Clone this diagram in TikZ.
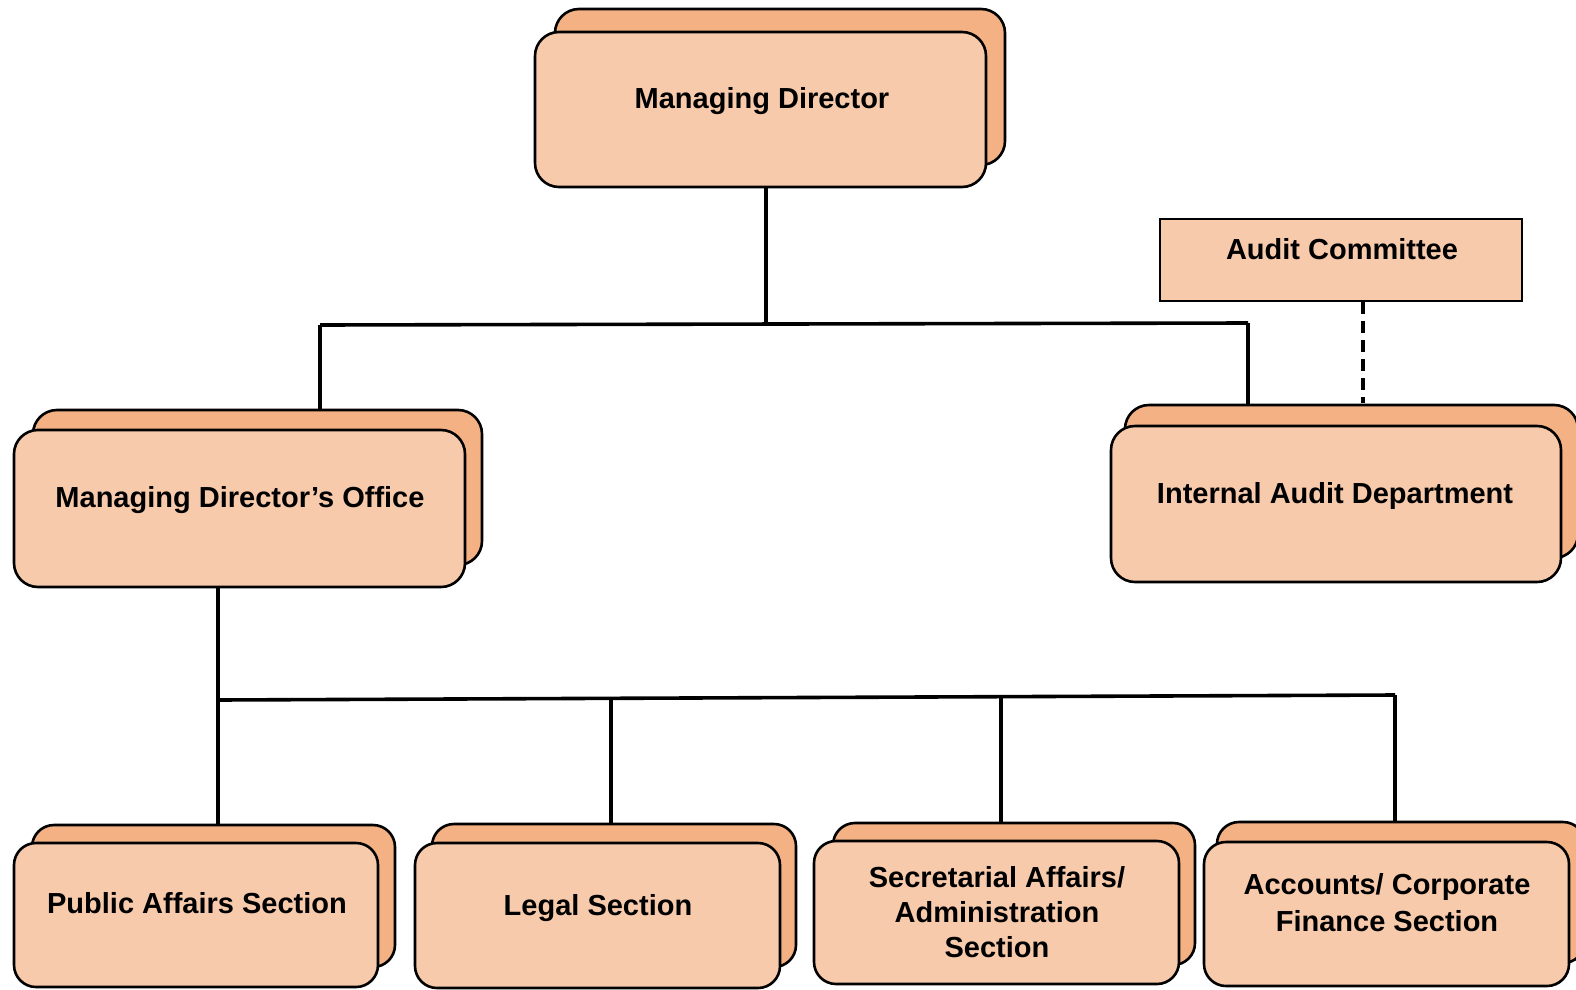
\documentclass[tikz,border=0pt]{standalone}
\usepackage{fontspec}
\setmainfont{Liberation Sans}
\usetikzlibrary{fit}
\definecolor{frontfill}{HTML}{F7CAAC}
\definecolor{backfill}{HTML}{F4B183}
\begin{document}
\begin{tikzpicture}[x=1pt,y=-1pt,
  backbox/.style={draw=black, line width=2.6pt, fill=backfill, rounded corners=24pt, inner sep=0pt},
  frontbox/.style={draw=black, line width=2.6pt, fill=frontfill, rounded corners=24pt, inner sep=0pt},
  plainbox/.style={draw=black, line width=2.6pt, fill=frontfill, inner sep=0pt},
  lbl/.style={anchor=base, align=center, font=\fontsize{29}{35}\selectfont\bfseries, inner sep=0pt},
  conn/.style={draw=black, line width=3.6pt},
  dconn/.style={draw=black, line width=3.6pt, dash pattern=on 12pt off 7pt}]
\useasboundingbox (0,0) rectangle (1576,990);
\fill[white] (0,0) rectangle (1576,990);

% Managing Director
\node[backbox, fit={(555,9) (1005,165)}] (mdB) {};
\node[frontbox, fit={(535,32) (986,187)}] (md) {};
\node[lbl] (mdT) at (762,108) {Managing Director};

% Managing Director's Office
\node[backbox, fit={(33,410) (482,565)}] (mdoB) {};
\node[frontbox, fit={(14,430) (465,587)}] (mdo) {};
\node[lbl] (mdoT) at (240,507) {Managing Director’s Office};

% Audit Committee
\node[plainbox, fit={(1160,219) (1522,301)}] (ac) {};
\node[lbl] (acT) at (1342,259) {Audit Committee};

% Internal Audit Department
\node[backbox, fit={(1125,405) (1578,558)}] (iadB) {};
\node[frontbox, fit={(1111,426) (1561,582)}] (iad) {};
\node[lbl] (iadT) at (1335,503) {Internal Audit Department};

% Bottom row
\node[backbox, rounded corners=22pt, fit={(32,825) (395,967)}] (pasB) {};
\node[frontbox, rounded corners=22pt, fit={(14,843) (378,987)}] (pas) {};
\node[lbl] (pasT) at (197,913) {Public Affairs Section};

\node[backbox, rounded corners=22pt, fit={(432,824) (796,967)}] (legB) {};
\node[frontbox, rounded corners=22pt, fit={(415,843) (780,988)}] (leg) {};
\node[lbl] (legT) at (598,915) {Legal Section};

\node[backbox, rounded corners=22pt, fit={(833,823) (1195,965)}] (saaB) {};
\node[frontbox, rounded corners=22pt, fit={(814,841) (1179,984)}] (saa) {};
\node[lbl] (saaT) at (997,957) {Secretarial Affairs/\\Administration\\Section};

\node[backbox, rounded corners=22pt, fit={(1217,822) (1585,963)}] (acfB) {};
\node[frontbox, rounded corners=22pt, fit={(1204,842) (1569,986)}] (acf) {};
\node[lbl, font=\fontsize{29}{37}\selectfont\bfseries] (acfT) at (1387,931) {Accounts/ Corporate\\Finance Section};

% Connectors top level
\coordinate (hL) at (320,325);
\coordinate (hM) at (766,324);
\coordinate (hR) at (1248,323);
\draw[conn] (md.south -| hM) -- (hM);
\draw[conn] (hL) -- (hR);
\draw[conn] (hL) -- (hL |- mdoB.north);
\draw[conn] (hR) -- (hR |- iadB.north);
\draw[dconn] (ac.south -| 1363,0) -- (1363,403);

% Connectors bottom level
\coordinate (b1) at (218,700);
\coordinate (b2) at (611,699);
\coordinate (b3) at (1001,697);
\coordinate (b4) at (1395,695);
\draw[conn] (mdo.south -| b1) -- (b1);
\draw[conn] (b1) -- (b4);
\draw[conn] (b1) -- (b1 |- pasB.north);
\draw[conn] (b2) -- (b2 |- legB.north);
\draw[conn] (b3) -- (b3 |- saaB.north);
\draw[conn] (b4) -- (b4 |- acfB.north);
\end{tikzpicture}
\end{document}
